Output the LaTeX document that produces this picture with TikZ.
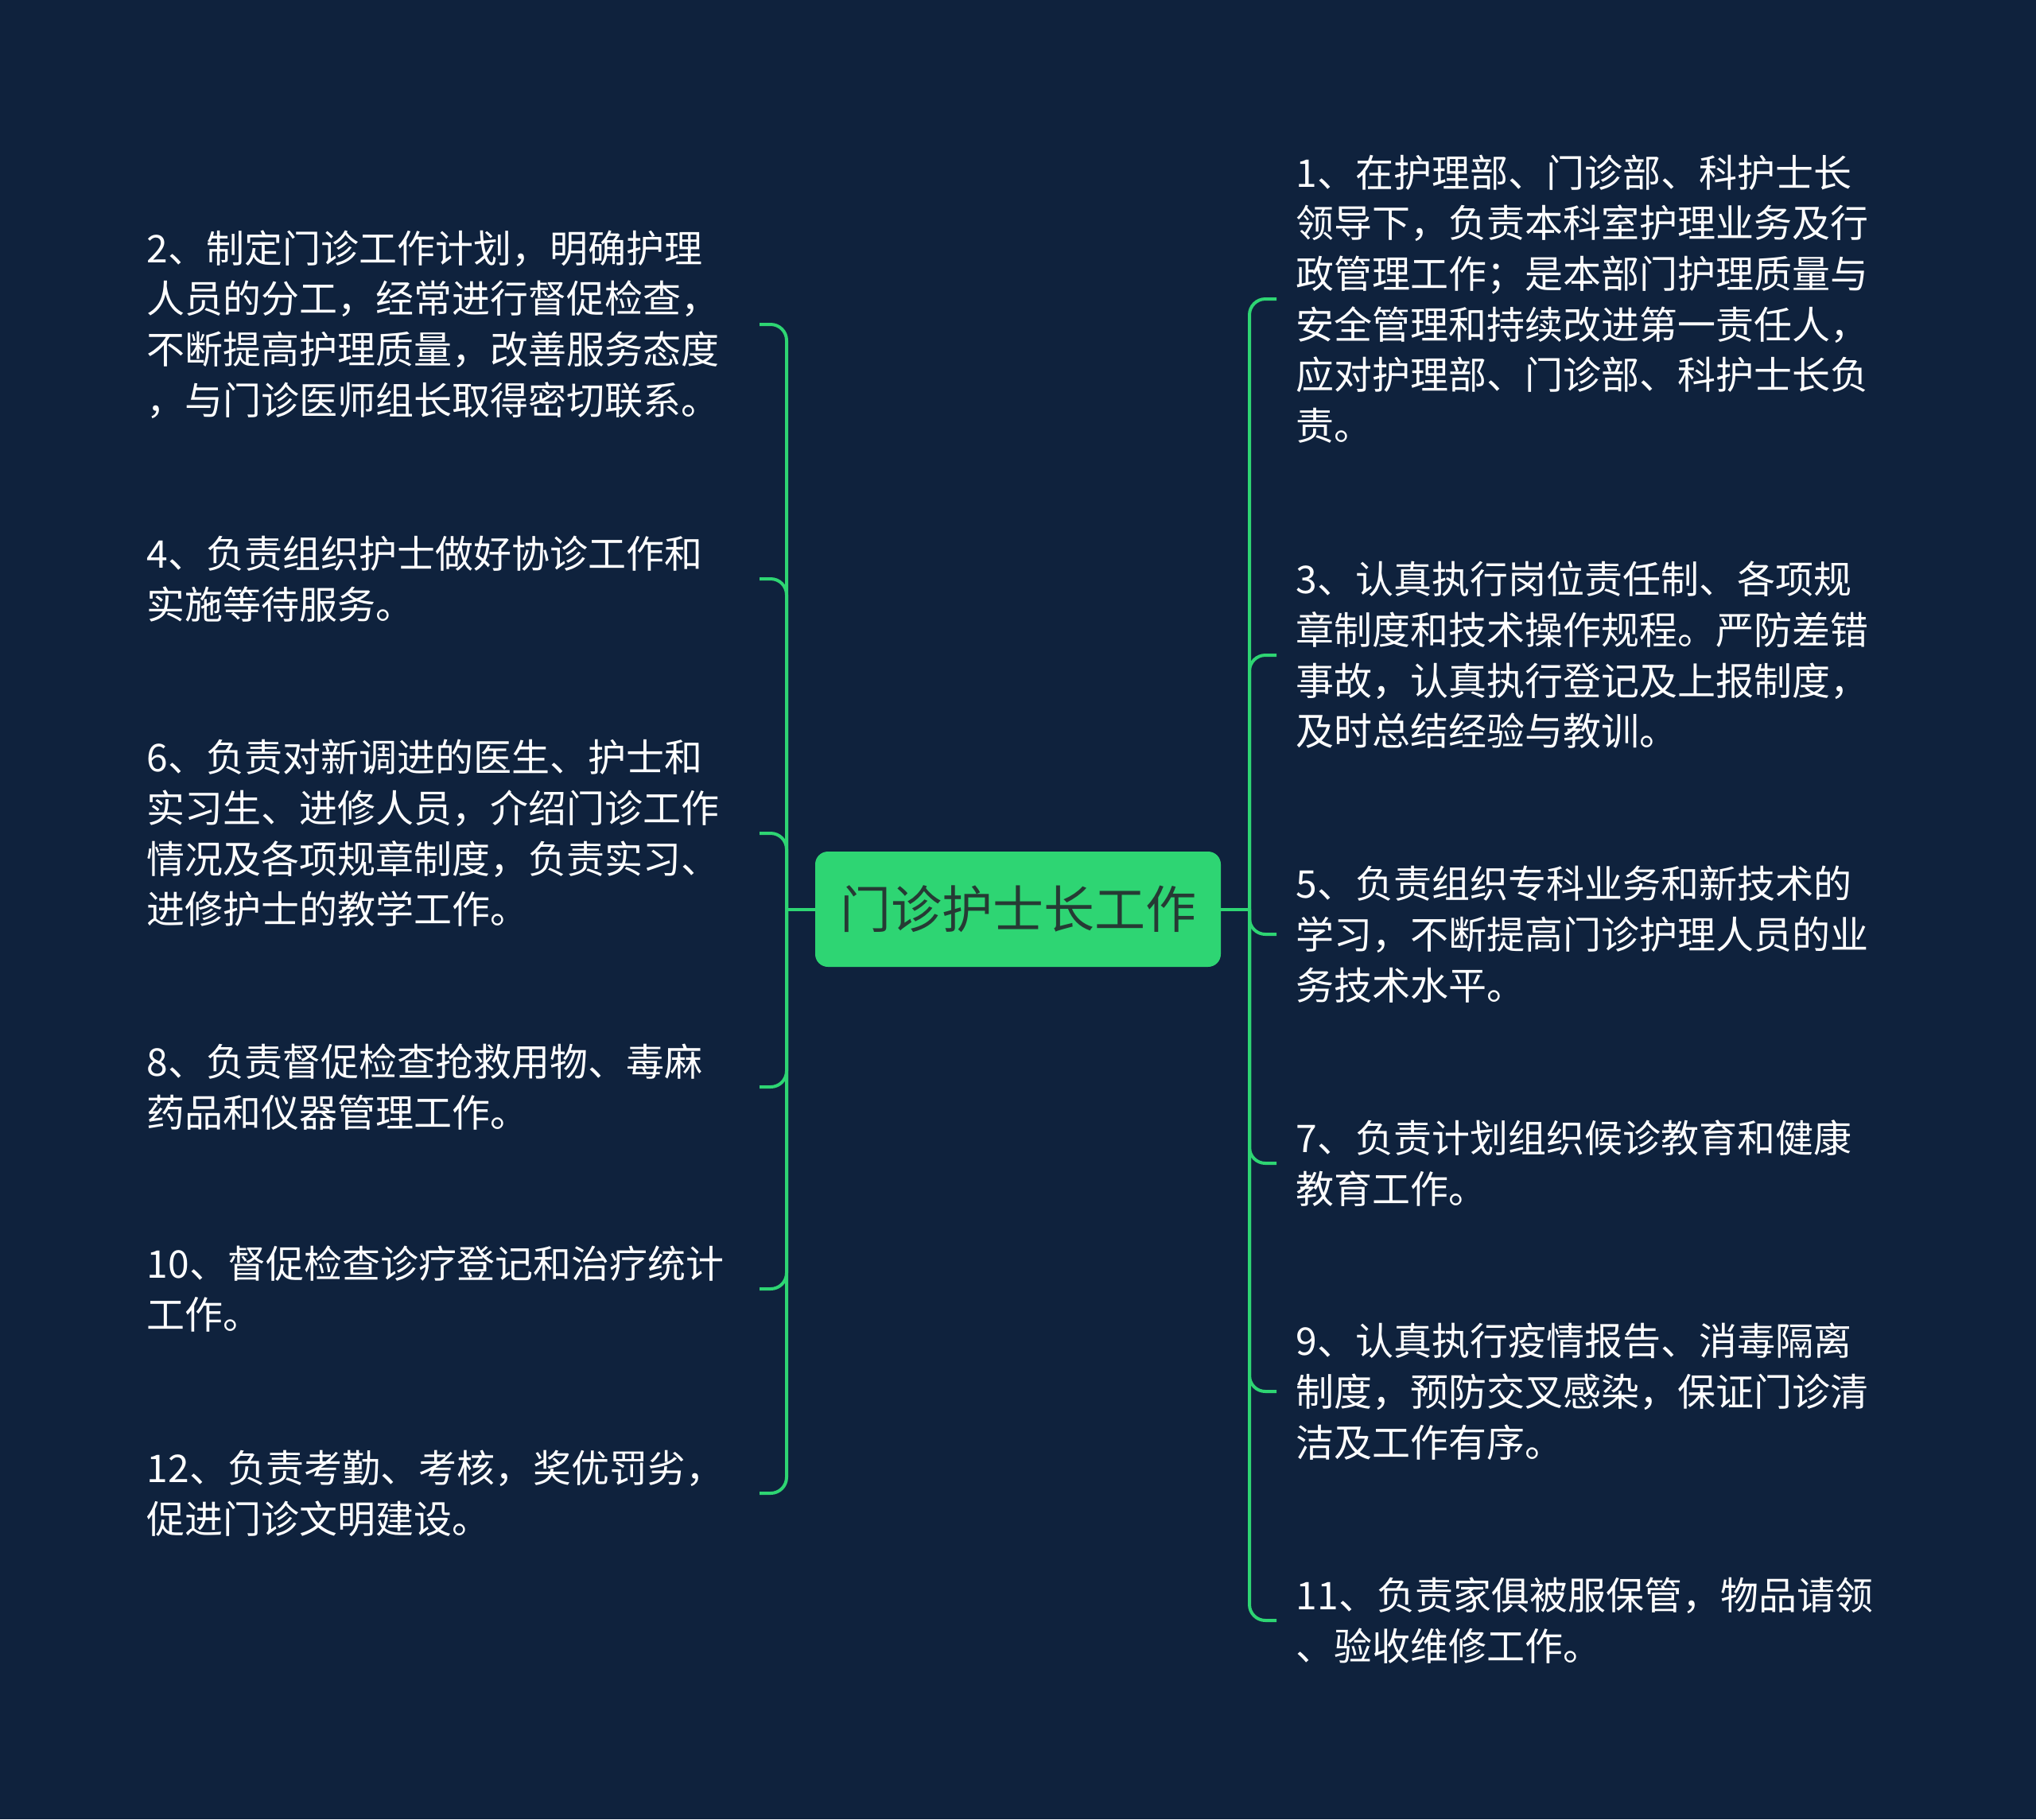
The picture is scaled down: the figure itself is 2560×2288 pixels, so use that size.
\documentclass[tikz,border=0pt]{standalone}
\usepackage{fontspec}
\setmainfont{Noto Sans CJK SC}
\definecolor{bgc}{HTML}{0F223D}
\definecolor{lk}{HTML}{2ED573}
\definecolor{ctx}{HTML}{263A34}
\begin{document}
\begin{tikzpicture}[x=0.5pt,y=-0.5pt,
  leaf/.style={anchor=west, align=left, inner sep=0pt, text=white, font=\fontsize{24}{31.85}\selectfont},
  rootbox/.style={rounded corners=8pt, fill=lk, text=ctx, minimum width=255pt, minimum height=72.5pt, inner sep=0pt, font=\fontsize{32}{38}\selectfont},
  link/.style={draw=lk, line width=2pt, rounded corners=10pt}]
\fill[bgc] (0,0) rectangle (2560,2288);
\useasboundingbox (0,0) rectangle (2560,2288);

\node[rootbox] (c) at (1280,1143.5) {门诊护士长工作};

% left side
\node[leaf] (l2) at (184.5,408) {2、制定门诊工作计划，明确护理\\人员的分工，经常进行督促检查，\\不断提高护理质量，改善服务态度\\，与门诊医师组长取得密切联系。};
\node[leaf] (l4) at (184.5,728) {4、负责组织护士做好协诊工作和\\实施等待服务。};
\node[leaf] (l6) at (184.5,1048) {6、负责对新调进的医生、护士和\\实习生、进修人员，介绍门诊工作\\情况及各项规章制度，负责实习、\\进修护士的教学工作。};
\node[leaf] (l8) at (184.5,1367) {8、负责督促检查抢救用物、毒麻\\药品和仪器管理工作。};
\node[leaf] (l10) at (184.5,1621) {10、督促检查诊疗登记和治疗统计\\工作。};
\node[leaf] (l12) at (184.5,1878) {12、负责考勤、考核，奖优罚劣，\\促进门诊文明建设。};

% right side
\node[leaf] (r1) at (1629.5,376) {1、在护理部、门诊部、科护士长\\领导下，负责本科室护理业务及行\\政管理工作；是本部门护理质量与\\安全管理和持续改进第一责任人，\\应对护理部、门诊部、科护士长负\\责。};
\node[leaf] (r3) at (1629.5,824) {3、认真执行岗位责任制、各项规\\章制度和技术操作规程。严防差错\\事故，认真执行登记及上报制度，\\及时总结经验与教训。};
\node[leaf] (r5) at (1629.5,1175) {5、负责组织专科业务和新技术的\\学习，不断提高门诊护理人员的业\\务技术水平。};
\node[leaf] (r7) at (1629.5,1463) {7、负责计划组织候诊教育和健康\\教育工作。};
\node[leaf] (r9) at (1629.5,1750) {9、认真执行疫情报告、消毒隔离\\制度，预防交叉感染，保证门诊清\\洁及工作有序。};
\node[leaf] (r11) at (1629.5,2038) {11、负责家俱被服保管，物品请领\\、验收维修工作。};

% connector end points
\coordinate (jl) at (989,1143.5);
\coordinate (jr) at (1571,1143.5);
\foreach \n/\y in {l2/408,l4/728,l6/1048,l8/1367,l10/1621,l12/1878}{
  \coordinate (e\n) at (955,\y);
}
\foreach \n/\y in {r1/376,r3/824,r5/1175,r7/1463,r9/1750,r11/2038}{
  \coordinate (e\n) at (1605,\y);
}

\draw[link] (c.west) -- (jl);
\draw[link] (c.east) -- (jr);
\foreach \n in {l2,l4,l6,l8,l10,l12}{
  \draw[link] (jl) |- (e\n);
}
\foreach \n in {r1,r3,r5,r7,r9,r11}{
  \draw[link] (jr) |- (e\n);
}
\end{tikzpicture}
\end{document}
